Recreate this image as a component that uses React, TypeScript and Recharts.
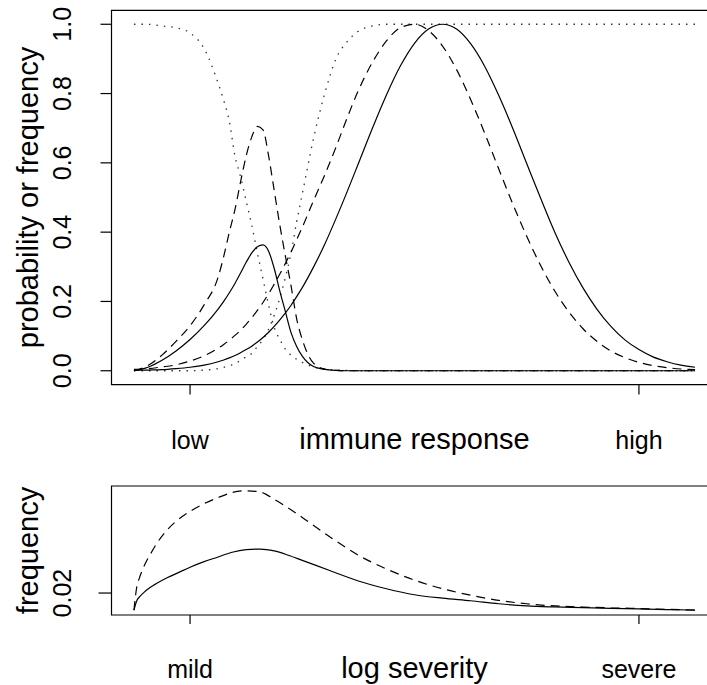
import { LineChart, Line, XAxis, YAxis, ReferenceArea, Label } from 'recharts'

const FONT = '"Liberation Sans", Arial, Helvetica, sans-serif'

// ---- top panel: immune response ----
const responseX = [
  0, 0.25, 0.5, 0.75, 1.0, 1.25, 1.5, 1.6, 1.7, 1.8, 1.9, 2.0, 2.1, 2.2, 2.3, 2.4, 2.5,
  2.6, 2.7, 2.8, 2.9, 3.0, 3.2, 3.4, 3.6, 3.8, 4.0, 4.25, 4.5, 4.75, 5.0, 5.25, 5.5,
  5.75, 6.0, 6.25, 6.5, 6.75, 7.0, 7.25, 7.5, 7.75, 8.0, 8.25, 8.5, 8.75, 9.0, 9.25,
  9.5, 9.75, 10.0,
]
const solidNarrow = [
  0, 0.01, 0.03, 0.057, 0.09, 0.13, 0.178, 0.2, 0.225, 0.252, 0.282, 0.313, 0.34,
  0.358, 0.363, 0.345, 0.295, 0.23, 0.17, 0.11, 0.07, 0.042, 0.012, 0.004, 0.001,
  0, 0, 0, 0, 0, 0, 0, 0, 0, 0, 0, 0, 0, 0, 0, 0, 0, 0, 0, 0, 0, 0, 0, 0, 0, 0,
]
const dashedNarrow = [
  0, 0.015, 0.045, 0.085, 0.13, 0.19, 0.27, 0.33, 0.4, 0.465, 0.545, 0.62, 0.675, 0.705,
  0.695, 0.62, 0.52, 0.42, 0.33, 0.245, 0.15, 0.09, 0.022, 0.005, 0.001,
  0, 0, 0, 0, 0, 0, 0, 0, 0, 0, 0, 0, 0, 0, 0, 0, 0, 0, 0, 0, 0, 0, 0, 0, 0, 0,
]
const solidWide = [
  0.001, 0.002, 0.003, 0.006, 0.01, 0.016, 0.026, 0.031, 0.037, 0.044, 0.052, 0.061,
  0.071, 0.083, 0.096, 0.111, 0.128, 0.147, 0.167, 0.189, 0.214, 0.24, 0.299, 0.365,
  0.439, 0.517, 0.598, 0.7, 0.796, 0.88, 0.945, 0.986, 1.0, 0.986, 0.944, 0.879, 0.795,
  0.7, 0.598, 0.497, 0.4, 0.314, 0.24, 0.178, 0.128, 0.089, 0.061, 0.04, 0.026, 0.016, 0.01,
]
const dashedWide = [
  0.004, 0.006, 0.011, 0.017, 0.028, 0.043, 0.065, 0.076, 0.088, 0.102, 0.117, 0.134,
  0.153, 0.174, 0.197, 0.222, 0.25, 0.279, 0.31, 0.343, 0.378, 0.414, 0.491, 0.565,
  0.645, 0.73, 0.809, 0.89, 0.952, 0.99, 1.0, 0.982, 0.937, 0.869, 0.783, 0.686, 0.583,
  0.482, 0.388, 0.303, 0.23, 0.17, 0.122, 0.085, 0.057, 0.038, 0.024, 0.015, 0.009, 0.005, 0.003,
]
const dottedFall = [
  1.0, 1.0, 0.995, 0.99, 0.975, 0.93, 0.83, 0.78, 0.72, 0.62, 0.56, 0.49, 0.42, 0.34,
  0.265, 0.19, 0.125, 0.09, 0.062, 0.045, 0.033, 0.024, 0.011, 0.005, 0.002, 0.001,
  0, 0, 0, 0, 0, 0, 0, 0, 0, 0, 0, 0, 0, 0, 0, 0, 0, 0, 0, 0, 0, 0, 0, 0, 0,
]
const dottedRise = [
  0, 0, 0, 0, 0, 0.002, 0.006, 0.01, 0.015, 0.02, 0.03, 0.04, 0.05, 0.07, 0.09, 0.12,
  0.16, 0.21, 0.27, 0.34, 0.43, 0.51, 0.67, 0.8, 0.9, 0.95, 0.98, 0.995,
  1, 1, 1, 1, 1, 1, 1, 1, 1, 1, 1, 1, 1, 1, 1, 1, 1, 1, 1, 1, 1, 1, 1,
]
const responseTicks = [0, 0.2, 0.4, 0.6, 0.8, 1.0]
const responseLabels: Record<number, string> = { 1: 'low', 9: 'high' }

// ---- bottom panel: log severity ----
const severityX = [
  0, 0.05, 0.1, 0.2, 0.3, 0.4, 0.6, 0.8, 1.0, 1.25, 1.5, 1.75, 2.0, 2.25, 2.5, 2.75,
  3.0, 3.5, 4.0, 4.5, 5.0, 5.5, 6.0, 6.5, 7.0, 7.5, 8.0, 8.5, 9.0, 9.5, 10,
]
const severityDashed = [
  0, 0.027, 0.038, 0.054, 0.066, 0.077, 0.094, 0.106, 0.115, 0.124, 0.131, 0.137, 0.139,
  0.1376, 0.129, 0.119, 0.108, 0.085, 0.064, 0.048, 0.035, 0.025, 0.0175, 0.0115,
  0.0075, 0.005, 0.0037, 0.0028, 0.002, 0.001, 0.0002,
]
const severitySolid = [
  0, 0.011, 0.0155, 0.022, 0.027, 0.031, 0.038, 0.044, 0.05, 0.0565, 0.062, 0.0675, 0.0705,
  0.0712, 0.069, 0.064, 0.058, 0.046, 0.034, 0.025, 0.018, 0.014, 0.011, 0.0075, 0.005,
  0.0038, 0.003, 0.0022, 0.0015, 0.0008, 0.0002,
]
const severityTicks = [0.02]
const severityLabels: Record<number, string> = { 1: 'mild', 9: 'severe' }

const topData = responseX.map((x, i) => ({
  x,
  solidNarrow: solidNarrow[i],
  dashedNarrow: dashedNarrow[i],
  solidWide: solidWide[i],
  dashedWide: dashedWide[i],
  dottedFall: dottedFall[i],
  dottedRise: dottedRise[i],
}))

const bottomData = severityX.map((x, i) => ({
  x,
  solid: severitySolid[i],
  dashed: severityDashed[i],
}))

const X_DOMAIN: [number, number] = [-0.4, 10.4]
const DASH = '9 6'
const DOT = '1.5 6'

const yTick = (digits: number) => (p: any) => (
  <text
    x={71}
    y={p.y}
    transform={`rotate(-90 71 ${p.y})`}
    textAnchor="middle"
    fontSize={25}
    fontFamily={FONT}
    fill="#000"
  >
    {Number(p.payload.value).toFixed(digits)}
  </text>
)

const xTick = (labels: Record<number, string>, baseline: number) => (p: any) => (
  <text x={p.x} y={baseline} textAnchor="middle" fontSize={25} fontFamily={FONT} fill="#000">
    {labels[p.payload.value]}
  </text>
)

const xTitle = (text: string, baseline: number) => (p: any) => {
  const vb = p.viewBox || {}
  const cx = (vb.x ?? 111.5) + (vb.width ?? 606) / 2
  return (
    <text x={cx} y={baseline} textAnchor="middle" fontSize={29} fontFamily={FONT} fill="#000">
      {text}
    </text>
  )
}

const yTitle = (text: string, cy: number) => () => (
  <text
    x={38}
    y={cy}
    transform={`rotate(-90 38 ${cy})`}
    textAnchor="middle"
    fontSize={29}
    fontFamily={FONT}
    fill="#000"
  >
    {text}
  </text>
)

export default function App() {
  return (
    <div
      style={{
        position: 'fixed', left: 0, top: 0, width: 707, height: 685,
        overflow: 'hidden', background: '#fff',
      }}
    >
      <LineChart width={740} height={470} data={topData}
        margin={{ top: 10.4, right: 22.5, bottom: 0, left: 0 }}>
        <ReferenceArea x1={-0.4} x2={10.4} y1={-0.04} y2={1.04}
          fill="none" stroke="#000" strokeWidth={1.2} />
        <XAxis type="number" dataKey="x" domain={X_DOMAIN} ticks={[1, 9]}
          height={85.4} axisLine={false} tickSize={10}
          tickLine={{ stroke: '#000', strokeWidth: 1.2 }}
          tick={xTick(responseLabels, 449)}>
          <Label content={xTitle('immune response', 449)} />
        </XAxis>
        <YAxis type="number" domain={[-0.04, 1.04]} ticks={responseTicks}
          width={111.5} axisLine={false} tickSize={11}
          tickLine={{ stroke: '#000', strokeWidth: 1.2 }}
          tick={yTick(1)}>
          <Label content={yTitle('probability or frequency', 197.5)} />
        </YAxis>
        <Line type="monotone" dataKey="dottedFall" stroke="#333" strokeWidth={1.3}
          strokeDasharray={DOT} dot={false} activeDot={false} isAnimationActive={false} />
        <Line type="monotone" dataKey="dottedRise" stroke="#333" strokeWidth={1.3}
          strokeDasharray={DOT} dot={false} activeDot={false} isAnimationActive={false} />
        <Line type="monotone" dataKey="dashedNarrow" stroke="#000" strokeWidth={1.2}
          strokeDasharray={DASH} dot={false} activeDot={false} isAnimationActive={false} />
        <Line type="monotone" dataKey="dashedWide" stroke="#000" strokeWidth={1.2}
          strokeDasharray={DASH} dot={false} activeDot={false} isAnimationActive={false} />
        <Line type="monotone" dataKey="solidNarrow" stroke="#000" strokeWidth={1.2}
          dot={false} activeDot={false} isAnimationActive={false} />
        <Line type="monotone" dataKey="solidWide" stroke="#000" strokeWidth={1.2}
          dot={false} activeDot={false} isAnimationActive={false} />
      </LineChart>

      <LineChart width={740} height={215} data={bottomData}
        margin={{ top: 16, right: 22.5, bottom: 0, left: 0 }}>
        <ReferenceArea x1={-0.4} x2={10.4} y1={-0.00556} y2={0.14456}
          fill="none" stroke="#000" strokeWidth={1.2} />
        <XAxis type="number" dataKey="x" domain={X_DOMAIN} ticks={[1, 9]}
          height={70} axisLine={false} tickSize={9}
          tickLine={{ stroke: '#000', strokeWidth: 1.2 }}
          tick={xTick(severityLabels, 208)}>
          <Label content={xTitle('log severity', 208)} />
        </XAxis>
        <YAxis type="number" domain={[-0.00556, 0.14456]} ticks={severityTicks}
          width={111.5} axisLine={false} tickSize={13}
          tickLine={{ stroke: '#000', strokeWidth: 1.2 }}
          tick={yTick(2)}>
          <Label content={yTitle('frequency', 80.5)} />
        </YAxis>
        <Line type="monotone" dataKey="dashed" stroke="#000" strokeWidth={1.2}
          strokeDasharray={DASH} dot={false} activeDot={false} isAnimationActive={false} />
        <Line type="monotone" dataKey="solid" stroke="#000" strokeWidth={1.2}
          dot={false} activeDot={false} isAnimationActive={false} />
      </LineChart>
    </div>
  )
}
